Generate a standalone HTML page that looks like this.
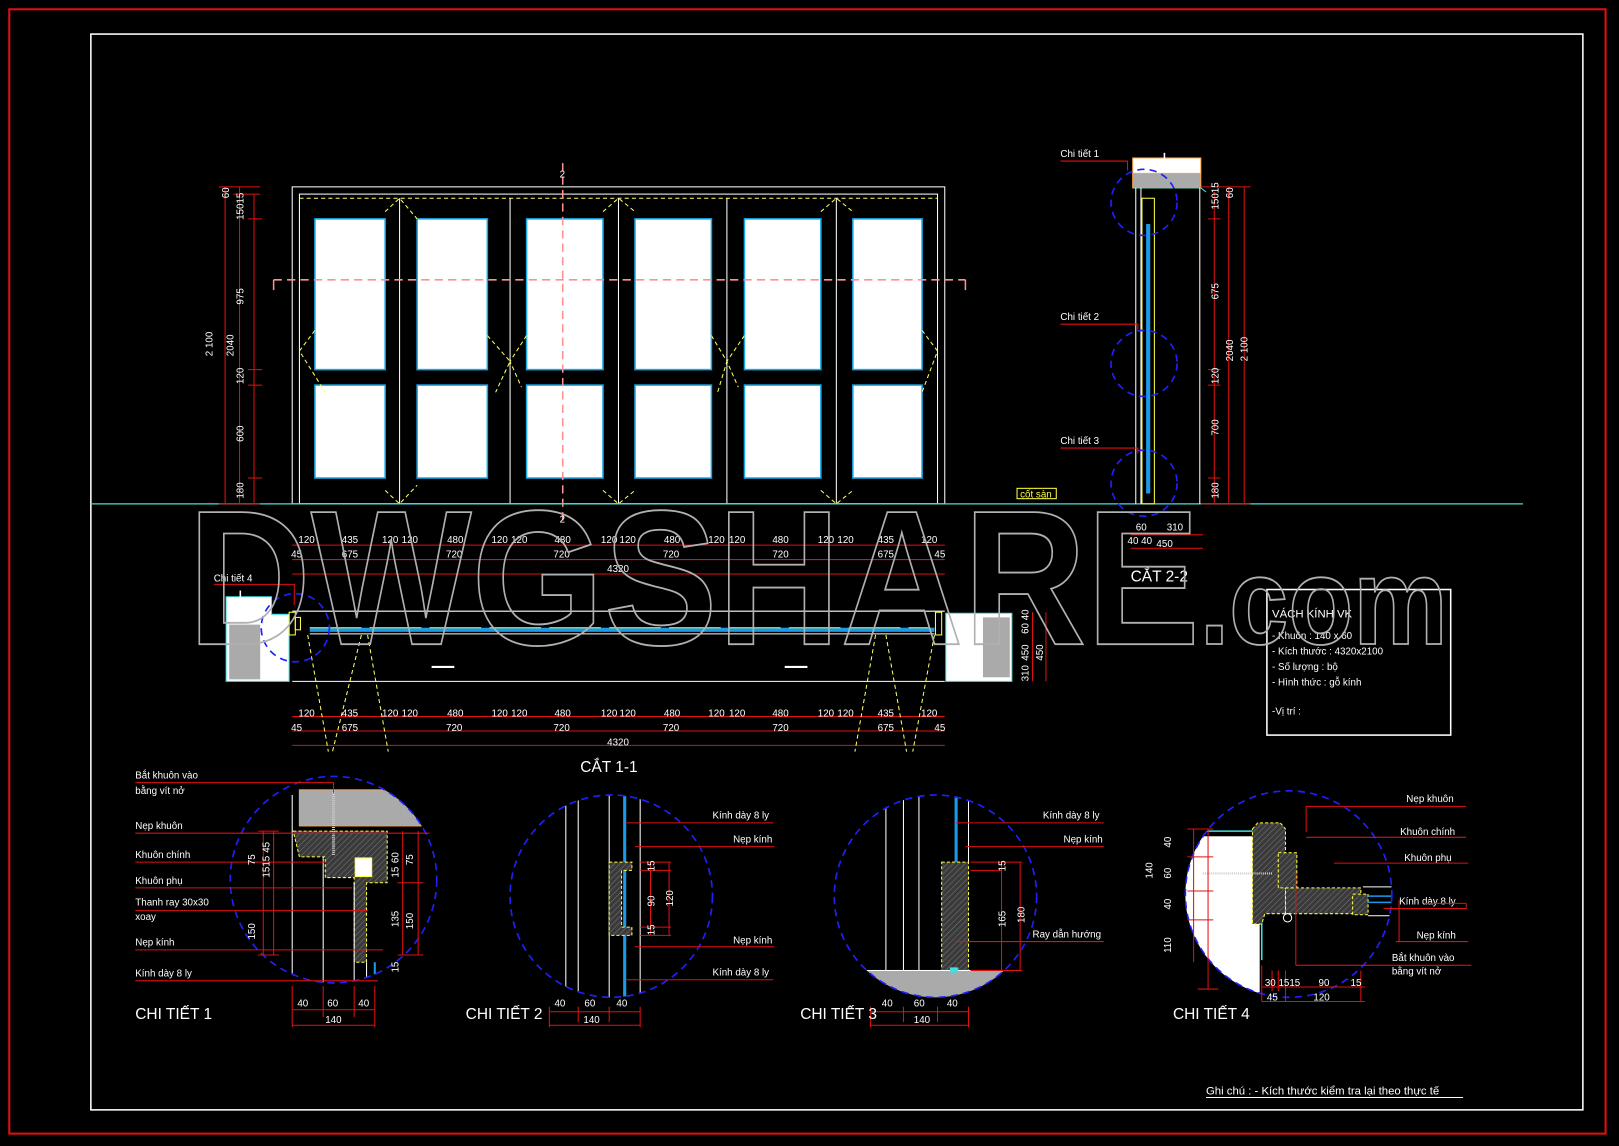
<!DOCTYPE html>
<html><head><meta charset="utf-8"><style>
html,body{margin:0;padding:0;background:#000;}
svg{display:block;}
text{font-family:"Liberation Sans",sans-serif;fill:#fff;}
.d{font-size:9.5px;}
.l{font-size:9.5px;}
.r{stroke:#e01010;stroke-width:1;fill:none;}
.w{stroke:#fff;stroke-width:1;fill:none;}
.y{stroke:#ffff60;stroke-width:1;fill:none;stroke-dasharray:4 3;}
.c{stroke:#2020ff;stroke-width:1.6;fill:none;stroke-dasharray:7 5;}
.h{fill:url(#hatch);stroke:#ffff40;stroke-width:1;stroke-dasharray:3 2;}
</style></head><body>
<svg width="1619" height="1146" viewBox="0 0 1568 1110" preserveAspectRatio="none" xmlns="http://www.w3.org/2000/svg">
<defs>
<pattern id="hatch" width="4" height="4" patternUnits="userSpaceOnUse" patternTransform="rotate(45)">
<rect width="4" height="4" fill="#3a3a3a"/><line x1="0" y1="0" x2="0" y2="4" stroke="#777" stroke-width="1"/></pattern>
<clipPath id="c1"><circle cx="323" cy="852" r="100"/></clipPath>
<clipPath id="c2"><circle cx="592" cy="868" r="98"/></clipPath>
<clipPath id="c3"><circle cx="906" cy="868" r="98"/></clipPath>
<clipPath id="c4"><circle cx="1248" cy="866" r="100"/></clipPath>
</defs>
<rect width="1568" height="1110" fill="#000"/>
<rect x="9" y="9" width="1546" height="1089" fill="none" stroke="#e01010" stroke-width="2"/>
<rect x="88" y="33" width="1445" height="1042" fill="none" stroke="#fff" stroke-width="1.5"/>

<!-- ELEVATION -->
<rect x="283" y="181" width="632" height="307" class="w"/>
<rect x="290" y="188" width="618" height="300" class="w"/>
<line x1="290" y1="192" x2="908" y2="192" class="y"/>
<g class="w">
<line x1="387" y1="192" x2="387" y2="488"/><line x1="494" y1="192" x2="494" y2="488"/>
<line x1="599" y1="192" x2="599" y2="488"/><line x1="704" y1="192" x2="704" y2="488"/>
<line x1="810" y1="192" x2="810" y2="488"/>
</g>
<g fill="#fff" stroke="#18a8e8" stroke-width="1.5">
<rect x="305" y="212" width="68" height="146"/><rect x="404" y="212" width="68" height="146"/>
<rect x="510" y="212" width="74" height="146"/><rect x="615" y="212" width="74" height="146"/>
<rect x="721" y="212" width="74" height="146"/><rect x="826" y="212" width="67" height="146"/>
<rect x="305" y="373" width="68" height="90"/><rect x="404" y="373" width="68" height="90"/>
<rect x="510" y="373" width="74" height="90"/><rect x="615" y="373" width="74" height="90"/>
<rect x="721" y="373" width="74" height="90"/><rect x="826" y="373" width="67" height="90"/>
</g>
<g class="y">
<path d="M373,205 L387,192 L404,212 M305,320 L290,340 L315,380 M373,475 L387,488 L404,470"/>
<path d="M472,325 L494,350 L480,380 M510,325 L494,350 L505,375 M584,205 L599,192 L615,205 M584,475 L599,488 L615,475"/>
<path d="M689,325 L704,350 L695,380 M721,325 L704,350 L715,375 M795,205 L810,192 L826,205 M795,475 L810,488 L826,475"/>
<path d="M893,320 L908,340 L893,380"/>
</g>
<g stroke="#ff9090" stroke-width="1.5" stroke-dasharray="8 5" fill="none">
<line x1="265" y1="271" x2="935" y2="271"/><line x1="545" y1="158" x2="545" y2="508"/>
</g>
<path d="M265,271 v10 M935,271 v10" stroke="#ff9090" stroke-width="1.5"/>
<text x="542" y="172" class="d">2</text><text x="542" y="506" class="d">2</text>
<line x1="88" y1="488" x2="1475" y2="488" stroke="#40e0e0" stroke-width="1.2"/>
<!-- left dims -->
<g class="r"><line x1="218" y1="181" x2="218" y2="488"/><line x1="232" y1="181" x2="232" y2="488"/><line x1="246" y1="188" x2="246" y2="488"/>
<path d="M212,181h40 M226,188h26 M240,212h14 M240,358h14 M240,373h14 M240,463h14 M212,488h40"/></g>
<g class="d">
<text transform="translate(206,345) rotate(-90)">2 100</text>
<text transform="translate(226,345) rotate(-90)">2040</text>
<text transform="translate(222,192) rotate(-90)">60</text>
<text transform="translate(236,213) rotate(-90)">15015</text>
<text transform="translate(236,295) rotate(-90)">975</text>
<text transform="translate(236,372) rotate(-90)">120</text>
<text transform="translate(236,428) rotate(-90)">600</text>
<text transform="translate(236,483) rotate(-90)">180</text>
</g>
<rect x="985" y="473" width="38" height="10" fill="none" stroke="#ffff40"/><text x="988" y="482" class="d" style="fill:#ffff40">cốt sàn</text>

<!-- top dims -->
<g class="r">
<line x1="283" y1="528" x2="915" y2="528"/><line x1="283" y1="542" x2="915" y2="542"/><line x1="283" y1="556" x2="915" y2="556"/>
<line x1="283" y1="694" x2="915" y2="694"/><line x1="283" y1="708" x2="915" y2="708"/><line x1="283" y1="722" x2="915" y2="722"/>
</g>
<g class="d">
<text x="289" y="526">120</text><text x="331" y="526">435</text><text x="370" y="526">120</text><text x="389" y="526">120</text><text x="433" y="526">480</text><text x="476" y="526">120</text><text x="495" y="526">120</text><text x="537" y="526">480</text><text x="582" y="526">120</text><text x="600" y="526">120</text><text x="643" y="526">480</text><text x="686" y="526">120</text><text x="706" y="526">120</text><text x="748" y="526">480</text><text x="792" y="526">120</text><text x="811" y="526">120</text><text x="850" y="526">435</text><text x="892" y="526">120</text>
<text x="282" y="540">45</text><text x="331" y="540">675</text><text x="432" y="540">720</text><text x="536" y="540">720</text><text x="642" y="540">720</text><text x="748" y="540">720</text><text x="850" y="540">675</text><text x="905" y="540">45</text>
<text x="588" y="554">4320</text>
<text x="289" y="694">120</text><text x="331" y="694">435</text><text x="370" y="694">120</text><text x="389" y="694">120</text><text x="433" y="694">480</text><text x="476" y="694">120</text><text x="495" y="694">120</text><text x="537" y="694">480</text><text x="582" y="694">120</text><text x="600" y="694">120</text><text x="643" y="694">480</text><text x="686" y="694">120</text><text x="706" y="694">120</text><text x="748" y="694">480</text><text x="792" y="694">120</text><text x="811" y="694">120</text><text x="850" y="694">435</text><text x="892" y="694">120</text>
<text x="282" y="708">45</text><text x="331" y="708">675</text><text x="432" y="708">720</text><text x="536" y="708">720</text><text x="642" y="708">720</text><text x="748" y="708">720</text><text x="850" y="708">675</text><text x="905" y="708">45</text>
<text x="588" y="722">4320</text>
</g>

<!-- SECTION 1-1 plan -->
<path d="M219,578 H263 V595 H280 V660 H219 Z" fill="#fff" stroke="#40e0e0"/>
<rect x="222" y="605" width="30" height="53" fill="#aaa"/>
<path d="M916,594 H980 V660 H916 Z" fill="#fff" stroke="#40e0e0"/>
<rect x="952" y="598" width="26" height="58" fill="#aaa"/>
<line x1="283" y1="592" x2="915" y2="592" class="w"/>
<line x1="283" y1="660" x2="915" y2="660" class="w"/>
<rect x="300" y="608" width="605" height="4" fill="#1a9ae8"/>
<line x1="300" y1="614" x2="905" y2="614" class="w"/>
<g fill="none" stroke="#ffff40"><rect x="280" y="593" width="6" height="22"/><rect x="286" y="598" width="5" height="12"/>
<rect x="906" y="593" width="6" height="22"/></g>
<path d="M300,608h600" stroke="#ffff40" stroke-dasharray="50 8"/>
<g class="y"><path d="M298,615 L318,728 M350,615 L322,728 M356,615 L376,728 M848,615 L828,728 M858,615 L878,728 M905,615 L884,728"/></g>
<path d="M418,646h22 M760,646h22" stroke="#fff" stroke-width="2"/>
<circle cx="286" cy="608" r="33" class="c"/>
<text x="207" y="563" class="l">Chi tiết 4</text><path d="M207,566h78v20" class="r"/>
<rect x="232" y="572" width="1.5" height="10" fill="#fff"/>
<g class="r"><line x1="1000" y1="593" x2="1000" y2="660"/><line x1="1013" y1="593" x2="1013" y2="660"/></g>
<g class="d"><text transform="translate(996,614) rotate(-90)">60 40</text><text transform="translate(996,640) rotate(-90)">450</text><text transform="translate(996,660) rotate(-90)">310</text><text transform="translate(1010,640) rotate(-90)">450</text></g>
<text x="562" y="748" style="font-size:15px">CẮT  1-1</text>

<!-- SECTION 2-2 -->
<rect x="1097" y="153" width="66" height="15" fill="#fff" stroke="#ffa040"/>
<rect x="1097" y="168" width="66" height="14" fill="#aaa" stroke="#ffa040"/>
<rect x="1127" y="148" width="1.5" height="8" fill="#fff"/>
<path d="M1097,182 H1163 L1168,186" stroke="#40e0e0" fill="none"/>
<g class="w"><line x1="1100" y1="182" x2="1100" y2="488"/><line x1="1105" y1="182" x2="1105" y2="488"/><line x1="1162" y1="182" x2="1162" y2="488"/></g>
<rect x="1106" y="192" width="12" height="296" fill="none" stroke="#ffff40"/>
<rect x="1110" y="217" width="4" height="261" fill="#1a9ae8"/>
<circle cx="1108" cy="196" r="32" class="c"/><circle cx="1108" cy="352" r="32" class="c"/><circle cx="1108" cy="468" r="32" class="c"/>
<text x="1027" y="152" class="l">Chi tiết 1</text><path d="M1027,156h65v9" class="r"/>
<text x="1027" y="310" class="l">Chi tiết 2</text><path d="M1027,314h75v6" class="r"/>
<text x="1027" y="430" class="l">Chi tiết 3</text><path d="M1027,434h75v5" class="r"/>
<g class="r"><line x1="1176" y1="186" x2="1176" y2="488"/><line x1="1190" y1="181" x2="1190" y2="488"/><line x1="1205" y1="181" x2="1205" y2="488"/>
<path d="M1163,181h48 M1170,212h12 M1170,358h12 M1170,373h12 M1170,463h12 M1163,488h48"/></g>
<g class="d">
<text transform="translate(1180,203) rotate(-90)">15015</text>
<text transform="translate(1194,192) rotate(-90)">60</text>
<text transform="translate(1180,290) rotate(-90)">675</text>
<text transform="translate(1180,372) rotate(-90)">120</text>
<text transform="translate(1180,422) rotate(-90)">700</text>
<text transform="translate(1180,483) rotate(-90)">180</text>
<text transform="translate(1194,350) rotate(-90)">2040</text>
<text transform="translate(1208,350) rotate(-90)">2 100</text>
<text x="1100" y="514">60</text><text x="1130" y="514">310</text>
<text x="1092" y="527">40 40</text><text x="1120" y="530">450</text>
</g>
<path d="M1095,518h70 M1095,531h70" class="r"/>
<text x="1095" y="563" style="font-size:15px">CẮT  2-2</text>

<!-- Title box -->
<rect x="1227" y="571" width="178" height="141" fill="none" stroke="#fff" stroke-width="1.5"/>
<text x="1232" y="598" style="font-size:11px">VÁCH KÍNH VK</text>
<text x="1232" y="619" class="l">- Khuôn : 140 x 60</text>
<text x="1232" y="634" class="l">- Kích thước : 4320x2100</text>
<text x="1232" y="649" class="l">- Số lượng : bộ</text>
<text x="1232" y="664" class="l">- Hình thức : gỗ kính</text>
<text x="1232" y="692" class="l">-Vị trí :</text>

<!-- DETAIL 1 -->
<g clip-path="url(#c1)">
<rect x="290" y="765" width="120" height="35" fill="#aaa" stroke="#ffa040"/>
<line x1="290" y1="765" x2="290" y2="800" stroke="#40e0e0"/>
<path d="M284,805 H375 V855 H355 V932 H343 V850 H315 V830 H290 Z" class="h"/>
<rect x="344" y="831" width="16" height="18" fill="#fff" stroke="#ffff40"/>
<line x1="283" y1="770" x2="283" y2="955" class="w"/><line x1="313" y1="830" x2="313" y2="955" class="w"/>
<line x1="343" y1="855" x2="343" y2="955" class="w"/>
<line x1="355" y1="932" x2="355" y2="955" class="w"/><line x1="363" y1="932" x2="363" y2="955" stroke="#1a9ae8" stroke-width="2"/>
<line x1="323" y1="765" x2="323" y2="828" stroke="#ccc" stroke-width="3" stroke-dasharray="1 1"/>
</g>
<circle cx="323" cy="852" r="100" class="c"/>
<g class="l"><text x="131" y="754">Bắt khuôn vào</text><text x="131" y="769">bằng vít nở</text><text x="131" y="803">Nẹp khuôn</text><text x="131" y="831">Khuôn chính</text><text x="131" y="856">Khuôn  phụ</text><text x="131" y="877">Thanh ray 30x30</text><text x="131" y="891">xoay</text><text x="131" y="916">Nẹp kính</text><text x="131" y="946">Kính dày 8 ly</text></g>
<g class="r"><path d="M131,758h192v10 M131,807h285 M131,835h185 M131,860h210 M131,882h225 M131,920h240 M131,950h235"/>
<path d="M255,805v120 M265,805v120 M390,805v120 M405,805v120 M250,805h20 M250,925h20 M385,855h25 M385,925h25 M283,955v40 M313,955v30 M343,955v30 M363,955v40 M283,978h80 M283,993h80"/></g>
<g class="d"><text transform="translate(247,838) rotate(-90)">75</text><text transform="translate(261,826) rotate(-90)">45</text><text transform="translate(261,850) rotate(-90)">1515</text><text transform="translate(247,910) rotate(-90)">150</text>
<text transform="translate(386,836) rotate(-90)">60</text><text transform="translate(400,838) rotate(-90)">75</text><text transform="translate(386,850) rotate(-90)">15</text><text transform="translate(386,898) rotate(-90)">135</text><text transform="translate(400,900) rotate(-90)">150</text><text transform="translate(386,942) rotate(-90)">15</text>
<text x="288" y="975">40</text><text x="317" y="975">60</text><text x="347" y="975">40</text><text x="315" y="991">140</text></g>
<text x="131" y="987" style="font-size:15px">CHI TIẾT 1</text>

<!-- DETAIL 2 -->
<g clip-path="url(#c2)">
<g class="w"><line x1="548" y1="765" x2="548" y2="970"/><line x1="560" y1="765" x2="560" y2="970"/><line x1="590" y1="765" x2="590" y2="970"/><line x1="620" y1="765" x2="620" y2="970"/></g>
<line x1="605" y1="765" x2="605" y2="970" stroke="#1a9ae8" stroke-width="3"/>
<path d="M590,835 H612 V843 H602 V898 H612 V906 H590 Z" class="h"/>
</g>
<circle cx="592" cy="868" r="98" class="c"/>
<g class="l"><text x="690" y="793">Kính dày 8 ly</text><text x="710" y="816">Nẹp kính</text><text x="710" y="914">Nẹp kính</text><text x="690" y="945">Kính dày 8 ly</text></g>
<g class="r"><path d="M606,797h143 M615,820h135 M615,917h135 M606,949h143 M620,835h30 M620,843h30 M620,898h30 M620,906h30 M630,835v71 M648,835v71 M532,975v20 M560,975v15 M590,975v15 M620,975v20 M532,980h88 M532,993h88"/></g>
<g class="d"><text transform="translate(634,844) rotate(-90)">15</text><text transform="translate(634,878) rotate(-90)">90</text><text transform="translate(652,878) rotate(-90)">120</text><text transform="translate(634,906) rotate(-90)">15</text>
<text x="537" y="975">40</text><text x="566" y="975">60</text><text x="597" y="975">40</text><text x="565" y="991">140</text></g>
<text x="451" y="987" style="font-size:15px">CHI TIẾT 2</text>

<!-- DETAIL 3 -->
<g clip-path="url(#c3)">
<g class="w"><line x1="858" y1="765" x2="858" y2="970"/><line x1="875" y1="765" x2="875" y2="970"/><line x1="890" y1="765" x2="890" y2="970"/><line x1="938" y1="765" x2="938" y2="835"/></g>
<line x1="926" y1="765" x2="926" y2="835" stroke="#1a9ae8" stroke-width="3"/>
<path d="M912,835 H938 V940 H912 Z" class="h"/>
<rect x="830" y="940" width="160" height="40" fill="#aaa" stroke="#fff"/>
<rect x="920" y="937" width="8" height="5" fill="#40e0e0"/>
</g>
<circle cx="906" cy="868" r="98" class="c"/>
<g class="l"><text x="1010" y="793">Kính dày 8 ly</text><text x="1030" y="816">Nẹp kính</text><text x="1000" y="908">Ray dẫn hướng</text></g>
<g class="r"><path d="M926,797h143 M935,820h134 M925,912h144 M940,835h50 M940,843h30 M940,940h50 M970,835v105 M988,835v105 M843,975v20 M875,975v15 M908,975v15 M938,975v20 M843,980h95 M843,993h95"/></g>
<g class="d"><text transform="translate(974,844) rotate(-90)">15</text><text transform="translate(974,898) rotate(-90)">165</text><text transform="translate(992,894) rotate(-90)">180</text>
<text x="854" y="975">40</text><text x="885" y="975">60</text><text x="917" y="975">40</text><text x="885" y="991">140</text></g>
<text x="775" y="987" style="font-size:15px">CHI TIẾT 3</text>

<!-- DETAIL 4 -->
<g clip-path="url(#c4)">
<rect x="1140" y="810" width="80" height="160" fill="#fff"/>
<path d="M1150,805 H1222 V930" stroke="#40e0e0" stroke-width="1.5" fill="none"/>
<path d="M1213,803 L1218,797 H1240 L1245,803 V885 H1225 L1222,895 H1213 Z" class="h"/>
<path d="M1245,860 H1318 V885 H1245 Z" class="h"/>
<rect x="1238" y="826" width="18" height="34" class="h"/>
<rect x="1310" y="866" width="15" height="20" class="h"/>
<line x1="1165" y1="846" x2="1232" y2="846" stroke="#ccc" stroke-width="2" stroke-dasharray="1 1"/>
<circle cx="1247" cy="889" r="4" fill="none" stroke="#fff"/>
<path d="M1320,859 H1350 M1325,887 H1350" class="w"/>
<path d="M1325,868 H1350 M1325,874 H1350" stroke="#1a9ae8" stroke-width="1.5"/>
</g>
<circle cx="1248" cy="866" r="100" class="c"/>
<g class="l"><text x="1362" y="777">Nẹp khuôn</text><text x="1356" y="809">Khuôn chính</text><text x="1360" y="834">Khuôn  phụ</text><text x="1355" y="876">Kính dày 8 ly</text><text x="1372" y="909">Nẹp kính</text><text x="1348" y="931">Bắt khuôn vào</text><text x="1348" y="944">bằng vít nở</text></g>
<g class="r"><path d="M1265,806v-25h155 M1265,811h155 M1292,836h130 M1380,875h40v5h-80 M1352,912h70 M1355,912v-40 M1255,935h170 M1255,935v-90 M1156,803v129 M1170,803v155 M1150,803h25 M1150,830h25 M1150,863h25 M1150,891h25 M1160,958h20 M1222,935v35 M1232,940v20 M1238,940v20 M1245,940v30 M1318,940v30 M1222,956h100 M1222,970h100"/></g>
<g class="d"><text transform="translate(1134,821) rotate(-90)">40</text><text transform="translate(1134,851) rotate(-90)">60</text><text transform="translate(1134,881) rotate(-90)">40</text><text transform="translate(1116,851) rotate(-90)">140</text><text transform="translate(1134,923) rotate(-90)">110</text>
<text x="1225" y="955">30 1515</text><text x="1277" y="955">90</text><text x="1308" y="955">15</text><text x="1227" y="969">45</text><text x="1272" y="969">120</text></g>
<text x="1136" y="987" style="font-size:15px">CHI TIẾT 4</text>

<text x="1168" y="1060" style="font-size:11px">Ghi chú : - Kích thước kiểm tra lại theo thực tế</text>
<line x1="1168" y1="1063" x2="1417" y2="1063" stroke="#fff"/>

<!-- watermark -->
<g style="fill:none;stroke:#b0b0b0;stroke-width:1.8;font-weight:bold;">
<text x="182" y="624" textLength="980" lengthAdjust="spacingAndGlyphs" style="font-size:186px;fill:none;">DWGSHARE</text>
<text x="1162" y="624" textLength="240" lengthAdjust="spacingAndGlyphs" style="font-size:120px;fill:none;">.com</text>
</g>
</svg>
</body></html>
